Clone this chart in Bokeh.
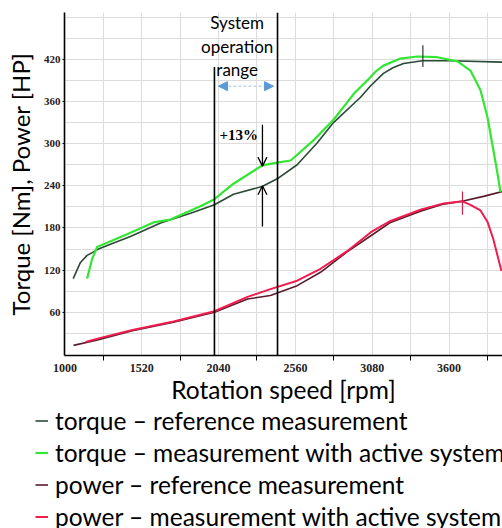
from bokeh.plotting import figure
from bokeh.models import (Range1d, FixedTicker, Legend, LegendItem, Arrow,
                          OpenHead, NormalHead)
from bokeh.core.properties import value
from bokeh.embed import file_html
from bokeh.resources import INLINE

# ---------------- data ----------------
torque_ref_rpm = [1056, 1105, 1150, 1193, 1227, 1308, 1443, 1647, 1850, 2012, 2141,
                  2335, 2437, 2572, 2707, 2818, 3001, 3068, 3156, 3220, 3292, 3420,
                  3610, 3962]
torque_ref_val = [108, 131, 141, 146, 150, 157, 168, 187, 201, 213, 228,
                  239, 250, 270, 301, 330, 366, 382, 400, 408, 414, 418,
                  418, 416]

torque_act_rpm = [1150, 1184, 1218, 1261, 1421, 1599, 1714, 1917, 2012, 2141, 2335,
                  2437, 2528, 2684, 2818, 2885, 2960, 3047, 3100, 3156, 3271, 3386,
                  3521, 3657, 3745, 3813, 3860, 3900, 3927, 3948]
torque_act_val = [108, 136, 153, 157, 171, 188, 192, 211, 221, 243, 269,
                  273, 276, 305, 334, 352, 372, 390, 402, 411, 421, 424,
                  423, 417, 404, 376, 338, 291, 259, 231]

power_ref_rpm = [1058, 1227, 1457, 1735, 2012, 2236, 2391, 2572, 2730, 2910, 3071,
                 3204, 3407, 3563, 3689, 3833, 3962]
power_ref_val = [13, 21, 34, 46, 60, 79, 84, 98, 117, 146, 169,
                 188, 204, 214, 218, 225, 232]

power_act_rpm = [1139, 1227, 1457, 1735, 2012, 2236, 2391, 2572, 2730, 2910, 3071,
                 3204, 3407, 3563, 3691, 3745, 3813, 3860, 3900, 3934, 3955]
power_act_val = [18, 23, 35, 47, 61.5, 82, 93, 105, 122, 147, 174,
                 190, 206, 215, 218, 213, 205, 189, 164, 136, 119]

# system operation range boundaries and annotations
range_rpm = [2012, 2439]
range_top = [409, 486.6]
max_mark_rpm = [3423, 3691]
max_mark_lo = [409, 199]
max_mark_hi = [440, 232]

x_ticks = [1000, 1520, 2040, 2560, 3080, 3600]
x_minor = [1260, 1780, 2300, 2820, 3340, 3860]
y_ticks = [60, 120, 180, 240, 300, 360, 420]
y_minor = [30, 90, 150, 210, 270, 330, 390, 450, 480]

legend_labels = ["torque \u2013 reference measurement",
                 "torque \u2013 measurement with active system",
                 "power \u2013 reference measurement",
                 "power \u2013 measurement with active system"]
colors = ["#2b4a36", "#33e633", "#5a1c2a", "#f01c50"]
widths = [1.6, 2.2, 1.6, 2.0]

FONT = "Lato"
SERIF = "Liberation Serif"

p = figure(width=502, height=406, output_backend="svg", toolbar_location=None,
           x_range=Range1d(997, 3962), y_range=Range1d(-1.4, 486.6),
           min_border_left=64, min_border_right=0, min_border_top=12,
           min_border_bottom=49, background_fill_color="white",
           border_fill_color="white", outline_line_color=None)

# grid
for g in (p.xgrid, p.ygrid):
    g.grid_line_color = "#dcdcdc"
    g.minor_grid_line_color = "#dcdcdc"
    g.grid_line_width = 1

# axes
p.xaxis.ticker = FixedTicker(ticks=x_ticks, minor_ticks=x_minor)
p.yaxis.ticker = FixedTicker(ticks=y_ticks, minor_ticks=y_minor)
for ax in (p.xaxis, p.yaxis):
    ax.axis_line_color = "black"
    ax.axis_line_width = 1.6
    ax.major_tick_in = 0
    ax.minor_tick_in = 0
    ax.major_label_text_font = SERIF
    ax.major_label_text_font_style = "bold"
    ax.major_label_text_color = "#222222"
    ax.axis_label_text_font = FONT
    ax.axis_label_text_font_style = "normal"
    ax.axis_label_text_color = "black"
p.xaxis.major_label_text_font_size = "12px"
p.yaxis.major_label_text_font_size = "11px"
p.xaxis.axis_label_text_font_size = "24.5px"
p.yaxis.axis_label_text_font_size = "24px"
p.xaxis.major_tick_out = 0
p.xaxis.minor_tick_out = 5
p.xaxis.minor_tick_line_color = "black"
p.xaxis.major_label_standoff = 3
p.xaxis.axis_label = "Rotation speed [rpm]"
p.xaxis.axis_label_standoff = 0
p.yaxis.major_tick_out = 2
p.yaxis.minor_tick_out = 0
p.yaxis.major_label_standoff = 2
p.yaxis.axis_label = "Torque [Nm], Power [HP]"
p.yaxis.axis_label_standoff = 6

# curves
p.line(torque_ref_rpm, torque_ref_val, line_color=colors[0], line_width=widths[0])
p.line(power_ref_rpm, power_ref_val, line_color=colors[2], line_width=widths[2])
p.line(torque_act_rpm, torque_act_val, line_color=colors[1], line_width=widths[1])
p.line(power_act_rpm, power_act_val, line_color=colors[3], line_width=widths[3])

# system operation range
p.segment(x0=range_rpm, y0=[-1.4, -1.4], x1=range_rpm, y1=range_top,
          line_color="black", line_width=1.6)
p.text(x=[2166, 2166, 2166], y=[472, 438, 406],
       text=["System", "operation", "range"], text_font=value(FONT),
       text_font_size="17px", text_align="center", text_baseline="middle",
       text_color="black")

p.segment(x0=[2039], y0=[381.8], x1=[2412], y1=[381.8], line_color="#9cc3e6",
          line_width=1, line_dash="3 2")
p.add_layout(Arrow(x_start=2226, y_start=381.8, x_end=2039, y_end=381.8,
                   line_alpha=0, end=NormalHead(size=9, fill_color="#5b9bd5",
                                                line_color="#5b9bd5")))
p.add_layout(Arrow(x_start=2226, y_start=381.8, x_end=2412, y_end=381.8,
                   line_alpha=0, end=NormalHead(size=9, fill_color="#5b9bd5",
                                                line_color="#5b9bd5")))

# +13% arrows
p.add_layout(Arrow(x_start=2337, y_start=327, x_end=2337, y_end=268,
                   line_color="black", line_width=1.3,
                   end=OpenHead(size=9, line_color="black", line_width=1.3)))
p.add_layout(Arrow(x_start=2337, y_start=182, x_end=2337, y_end=240,
                   line_color="black", line_width=1.3,
                   end=OpenHead(size=9, line_color="black", line_width=1.3)))
p.text(x=[2046], y=[312.5], text=["+13%"], text_font=value(SERIF),
       text_font_style="bold", text_font_size="15px", text_align="left",
       text_baseline="middle", text_color="black")

# maxima marks
p.segment(x0=max_mark_rpm, y0=max_mark_lo, x1=max_mark_rpm, y1=max_mark_hi,
          line_color=["#333333", "#d0204a"], line_width=1.2)

# ---------------- legend panel ----------------
lg = figure(width=502, height=122, output_backend="svg", toolbar_location=None,
            x_range=Range1d(0, 1), y_range=Range1d(0, 1), min_border=0,
            min_border_left=0, min_border_right=0, min_border_top=0,
            min_border_bottom=0,
            x_axis_location=None, y_axis_location=None,
            outline_line_color=None, background_fill_color="white",
            border_fill_color="white")
lg.grid.visible = False
items = []
nan = float("nan")
for lab, c, w in zip(legend_labels, colors, widths):
    r = lg.line([nan], [nan], line_color=c, line_width=w)
    items.append(LegendItem(label=lab, renderers=[r]))
legend = Legend(items=items, location=(35, -4), orientation="vertical",
                glyph_width=13, glyph_height=31, label_height=31, spacing=1,
                padding=0, margin=0, border_line_color=None,
                background_fill_alpha=0, label_standoff=7,
                label_text_font=FONT, label_text_font_size="24.5px",
                label_text_color="black")
lg.add_layout(legend)

open("out.html", "w").write(file_html([p, lg], INLINE))
